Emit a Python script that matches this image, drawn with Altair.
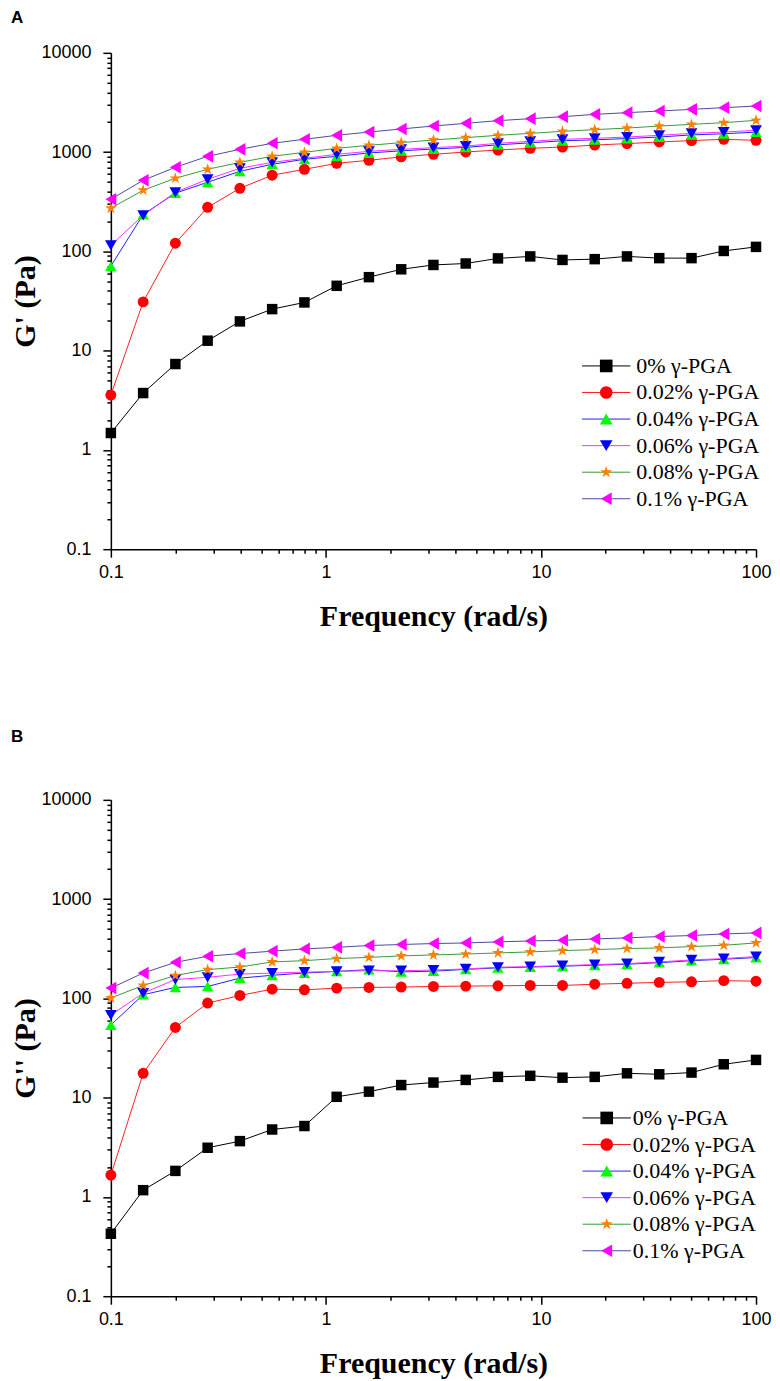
import altair as alt
import pandas as pd

# ---------------- data ----------------
freq = [0.1, 0.1413, 0.1995, 0.2818, 0.3981, 0.5623, 0.7943, 1.122, 1.585, 2.239,
        3.162, 4.467, 6.310, 8.913, 12.59, 17.78, 25.12, 35.48, 50.12, 70.79, 100.0]

series = ["0% γ-PGA", "0.02% γ-PGA", "0.04% γ-PGA", "0.06% γ-PGA", "0.08% γ-PGA", "0.1% γ-PGA"]

# Panel A: G'
gA_0 = [1.48, 3.74, 7.33, 12.6, 19.7, 26.2, 30.6, 45, 55, 66, 73, 75.5, 85, 89, 82, 83.5, 89, 85.5, 85.5, 101, 111]
gA_002 = [3.57, 31, 121, 278, 432, 585, 671, 771, 827, 895, 950, 1003, 1050, 1092, 1125, 1178, 1218, 1265, 1306, 1346, 1315]
gA_004 = [71, 235, 386, 497, 641, 754, 847, 907, 980, 1030, 1075, 1115, 1185, 1240, 1300, 1330, 1370, 1420, 1490, 1530, 1590]
gA_006 = [115, 231, 394, 532, 687, 789, 866, 950, 1018, 1067, 1109, 1151, 1227, 1285, 1346, 1377, 1419, 1476, 1545, 1592, 1657]
gA_008 = [272, 413, 545, 671, 789, 907, 995, 1092, 1170, 1246, 1324, 1399, 1476, 1545, 1619, 1684, 1747, 1829, 1904, 1980, 2089]
gA_01 = [335, 520, 703, 907, 1067, 1227, 1346, 1476, 1592, 1710, 1832, 1949, 2074, 2172, 2275, 2400, 2497, 2592, 2696, 2804, 2911]

# Panel B: G''
gB_0 = [0.426, 1.17, 1.83, 3.13, 3.65, 4.78, 5.18, 10.2, 11.5, 13.4, 14.2, 15.1, 16.2, 16.6, 15.9, 16.2, 17.6, 17.2, 17.9, 21.7, 24.0]
gB_002 = [1.66, 17.6, 51, 89.7, 107, 124, 122, 127, 129, 130, 132, 133, 134, 135, 135, 139, 142, 145, 147, 151, 149]
gB_004 = [54, 109, 129, 132, 160, 171, 180, 187, 195, 185, 188, 196, 203, 207, 211, 216, 221, 229, 240, 248, 258]
gB_006 = [68, 113, 155, 163, 176, 180, 184, 187, 190, 190, 193, 198, 206, 209, 214, 219, 224, 233, 244, 252, 264]
gB_008 = [101, 135, 170, 195, 207, 233, 240, 252, 259, 268, 274, 280, 287, 294, 303, 310, 318, 322, 333, 343, 362]
gB_01 = [127, 180, 231, 266, 283, 299, 315, 327, 341, 349, 357, 362, 371, 379, 385, 397, 407, 420, 430, 446, 457]

x_major = [0.1, 1, 10, 100]
y_major = [0.1, 1, 10, 100, 1000, 10000]

# ---------------- styles ----------------
marker_colors = ["#000000", "#FF0000", "#00FF00", "#0000FF", "#FF8000", "#FF00FF"]
line_colors = ["#000000", "#FF2020", "#2020FF", "#FF30FF", "#3A9A3A", "#4A4AA0"]
star = "M0,-1L0.2245,-0.309L0.9511,-0.309L0.3633,0.118L0.5878,0.809L0,0.382L-0.5878,0.809L-0.3633,0.118L-0.9511,-0.309L-0.2245,-0.309Z"
shapes = ["square", "circle", "triangle-up", "triangle-down", star, "triangle-left"]
marker_sizes = [110, 160, 190, 190, 240, 210]
line_symbol = "M-4.4,0L4.4,0"


def long(vals_list):
    rows = []
    for s, vals in zip(series, vals_list):
        for f, v in zip(freq, vals):
            rows.append({"freq": f, "val": v, "series": s, "curve": s})
    return pd.DataFrame(rows)


def minors(majors):
    out = []
    for m in majors[:-1]:
        for k in range(2, 10):
            out.append(round(m * k, 6))
    return out


x_ticks = x_major + minors(x_major)
y_ticks = y_major + minors(y_major)

sans = "Liberation Sans"
serif = "Liberation Serif"


def axis(majors, ticks, title_pad, label_pad, orient):
    test = "indexof(" + str(majors) + ", datum.value) >= 0"
    return alt.Axis(
        values=ticks,
        format="~g",
        labelExpr=test + " ? datum.label : ''",
        labelOverlap=False,
        labelFlush=False,
        labelFont=sans,
        labelFontSize=18,
        labelColor="black",
        labelPadding=label_pad,
        tickSize={"condition": {"test": test, "value": 8}, "value": 4},
        tickColor="black",
        tickWidth=1.5,
        domainColor="black",
        domainWidth=1.5,
        grid=False,
        titleFont=serif,
        titleFontSize=30,
        titleFontWeight="bold",
        titleColor="black",
        titlePadding=title_pad,
        orient=orient,
    )


def panel(df, ytitle, letter, letter_offset, lx, ly, lab_off):
    xs = alt.Scale(type="log", domain=[0.1, 100], nice=False)
    ys = alt.Scale(type="log", domain=[0.1, 10000], nice=False)
    xenc = alt.X("freq:Q", scale=xs, axis=axis(x_major, x_ticks, 20, 6, "bottom"), title="Frequency (rad/s)")
    yenc = alt.Y("val:Q", scale=ys, axis=axis(y_major, y_ticks, 0, 12, "left"), title=ytitle)

    common_leg = dict(
        orient="none", legendY=ly, title=None, padding=0,
        labelFont=serif, labelFontSize=22, labelOffset=lab_off, rowPadding=4.6,
        labelColor="black",
    )
    line_leg = alt.Legend(symbolType=line_symbol, symbolStrokeWidth=1, symbolSize=121,
                          legendX=lx, zindex=0, **common_leg)
    mark_leg = alt.Legend(symbolStrokeWidth=0, symbolSize=160, labelOpacity=0,
                          legendX=lx, zindex=1, **common_leg)

    # stroke scale takes its (alphabetical = display) order from the data, so that its
    # legend is kept apart from the marker legend
    lines = alt.Chart(df).mark_line(strokeWidth=1).encode(
        x=xenc, y=yenc,
        stroke=alt.Stroke("curve:N", sort="ascending", scale=alt.Scale(range=line_colors), legend=line_leg),
    )
    pts = alt.Chart(df).mark_point(filled=True, opacity=1, strokeWidth=0).encode(
        x=xenc, y=yenc,
        fill=alt.Fill("series:N", scale=alt.Scale(domain=series, range=marker_colors), legend=mark_leg),
        shape=alt.Shape("series:N", scale=alt.Scale(domain=series, range=shapes), legend=mark_leg),
        size=alt.Size("series:N", scale=alt.Scale(domain=series, range=marker_sizes), legend=None),
    )
    return alt.layer(lines, pts).properties(
        width=646, height=497,
        title=alt.TitleParams(letter, anchor="start", frame="bounds", font=sans, fontSize=17,
                              fontWeight="bold", color="black", offset=letter_offset),
    )


dfA = long([gA_0, gA_002, gA_004, gA_006, gA_008, gA_01])
dfB = long([gB_0, gB_002, gB_004, gB_006, gB_008, gB_01])

pA = panel(dfA, "G' (Pa)", "A", 17, 485, 302.5, 19)
pB = panel(dfB, "G'' (Pa)", "B", 45, 485.5, 307.5, 15)

chart = alt.vconcat(pA, pB, spacing=97).resolve_legend(
    stroke="independent", fill="independent", shape="independent"
).configure_view(strokeOpacity=0).properties(
    background="white", padding={"left": 2, "top": 0, "right": 0, "bottom": 5}
)

chart.save("out.html", embed_options={"renderer": "svg", "actions": False})
